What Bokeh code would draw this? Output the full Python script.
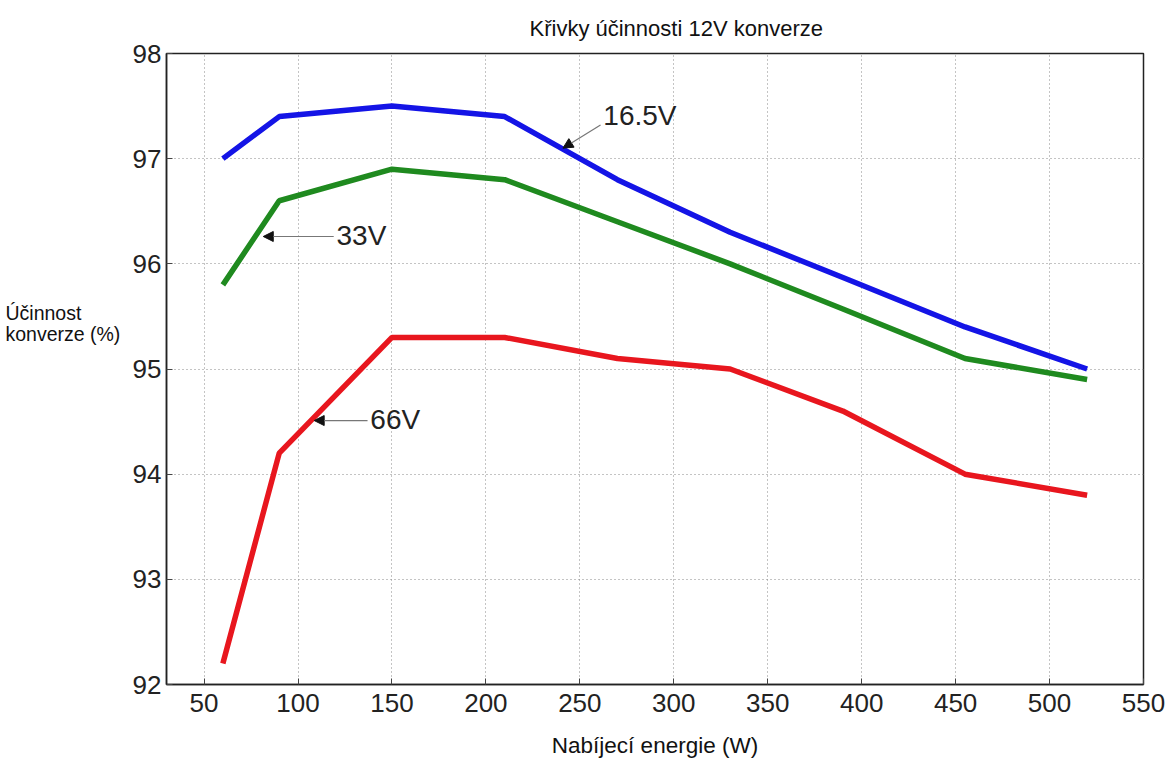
from bokeh.plotting import figure
from bokeh.models import Range1d, Label, Arrow, NormalHead, FixedTicker, Title
from bokeh.layouts import row
from bokeh.embed import file_html
from bokeh.resources import INLINE

power = [60, 90, 150, 210, 270, 330, 390, 455, 520]
eff_16_5V = [97.0, 97.4, 97.5, 97.4, 96.8, 96.3, 95.87, 95.4, 95.0]
eff_33V = [95.8, 96.6, 96.9, 96.8, 96.4, 96.0, 95.57, 95.1, 94.9]
eff_66V = [92.2, 94.2, 95.3, 95.3, 95.1, 95.0, 94.6, 94.0, 93.8]
x_ticks = [50, 100, 150, 200, 250, 300, 350, 400, 450, 500, 550]
y_ticks = [92, 93, 94, 95, 96, 97, 98]

FONT = "Liberation Sans"
LEFT_W = 129

# main chart
p = figure(width=1170 - LEFT_W, height=760, output_backend="svg", toolbar_location=None,
           x_range=Range1d(30, 550), y_range=Range1d(92, 98),
           min_border_left=165 - LEFT_W, min_border_right=27, min_border_top=53,
           min_border_bottom=75)
p.title = Title(text="Křivky účinnosti 12V konverze", align="left", offset=365 - (165 - LEFT_W) + 34,
                text_font=FONT, text_font_size="22px", text_font_style="normal",
                text_color="#111111", vertical_align="top")
p.title.standoff = 22

p.outline_line_color = "#222222"
p.outline_line_width = 1.5
p.background_fill_color = "white"
p.border_fill_color = "white"

for ax in (p.xaxis, p.yaxis):
    ax.axis_line_color = "#222222"
    ax.axis_line_width = 1.5
    ax.major_tick_in = 6
    ax.major_tick_out = 0
    ax.minor_tick_line_color = None
    ax.major_tick_line_color = "#444444"
    ax.major_label_text_font = FONT
    ax.major_label_text_font_size = "26px"
    ax.major_label_text_color = "#222222"
    ax.axis_label_text_font = FONT
    ax.axis_label_text_font_size = "22.5px"
    ax.axis_label_text_font_style = "normal"
    ax.axis_label_text_color = "#111111"

p.xaxis.ticker = FixedTicker(ticks=x_ticks)
p.yaxis.ticker = FixedTicker(ticks=y_ticks)
p.xaxis.major_label_standoff = 9
p.yaxis.major_label_standoff = 5
p.xaxis.axis_label = "Nabíjecí energie (W)"
p.xaxis.axis_label_standoff = 18

p.grid.grid_line_color = "#888888"
p.grid.grid_line_dash = "1 3"
p.grid.grid_line_width = 1

p.line(power, eff_16_5V, line_color="#1414e6", line_width=5.5)
p.line(power, eff_33V, line_color="#1f8a1f", line_width=5.5)
p.line(power, eff_66V, line_color="#e8161e", line_width=5.5)

def annot(tip_x, tip_y, tail_x, tail_y, text, tx, ty):
    p.add_layout(Arrow(end=NormalHead(size=10, fill_color="#111111", line_color="#111111"),
                       x_start=tail_x, y_start=tail_y, x_end=tip_x, y_end=tip_y,
                       line_color="#777777", line_width=1.2))
    p.add_layout(Label(x=tx, y=ty, text=text, text_font=FONT, text_font_size="28px",
                       text_color="#222222", text_baseline="middle", text_align="left"))

annot(241, 97.1, 261, 97.32, "16.5V", 262.5, 97.41)
annot(81.5, 96.26, 119, 96.26, "33V", 120.5, 96.27)
annot(108.6, 94.51, 137, 94.51, "66V", 138.5, 94.52)

# left strip holding the horizontal y-axis label
q = figure(width=LEFT_W, height=760, output_backend="svg", toolbar_location=None,
           x_range=Range1d(0, LEFT_W), y_range=Range1d(0, 760),
           min_border=0, outline_line_color=None)
q.axis.visible = False
q.grid.visible = False
q.background_fill_color = "white"
q.border_fill_color = "white"
for txt, ypix in (("Účinnost", 312), ("konverze (%)", 338)):
    q.add_layout(Label(x=5, y=760 - ypix, text=txt, text_font=FONT, text_font_size="19.5px",
                       text_color="#111111", text_baseline="middle", text_align="left"))

layout = row(q, p, spacing=0)
open("out.html", "w").write(file_html(layout, INLINE))
